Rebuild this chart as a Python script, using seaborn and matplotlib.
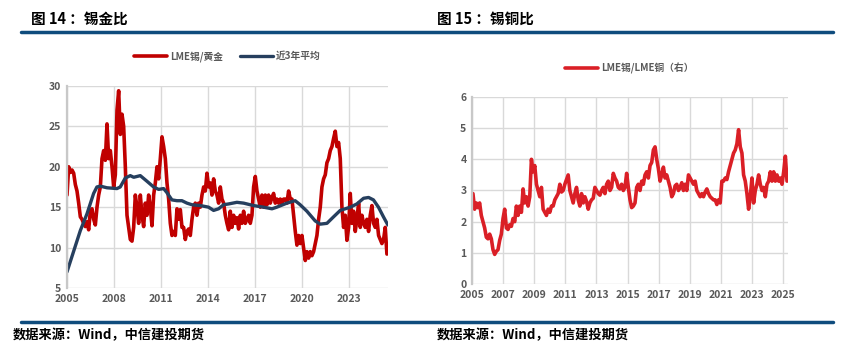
import numpy as np
import pandas as pd
import seaborn as sns
import matplotlib.pyplot as plt
from matplotlib.lines import Line2D

# 锡金比 (LME锡/黄金), 读图得到的取值, 2005 ~ 2025.4 等间距
tin_gold = [16.5, 20.0, 19.3, 19.6, 19.2, 17.8, 17.0, 15.5, 13.8, 13.5,
            13.0, 12.6, 13.2, 12.2, 14.5, 14.8, 13.5, 12.8, 15.0, 16.5,
            17.5, 21.0, 22.0, 20.8, 25.3, 21.0, 22.0, 20.0, 17.5, 19.0,
            27.0, 29.4, 24.0, 26.5, 25.0, 20.0, 14.0, 12.5, 11.0, 10.8,
            12.5, 16.5, 15.0, 13.0, 16.5, 14.0, 12.6, 15.5, 14.0, 16.5,
            15.0, 12.7, 16.5, 18.0, 20.0, 18.5, 21.0, 23.7, 22.5, 21.0,
            18.0, 16.0, 13.0, 11.5, 12.0, 11.5, 14.8, 13.5, 14.7, 12.5,
            12.5, 11.0, 12.0, 12.3, 11.5, 13.5, 15.0, 15.5, 14.0, 15.5,
            15.0, 16.5, 17.5, 17.0, 19.2, 17.5, 18.0, 16.5, 18.5, 17.0,
            16.5, 15.5, 17.5, 16.0, 15.5, 14.0, 13.0, 12.2, 14.5, 12.5,
            14.0, 13.0, 13.7, 12.3, 14.0, 13.0, 14.5, 13.0, 13.5, 14.0,
            13.0, 14.0, 17.5, 18.8, 17.0, 16.0, 15.0, 16.5, 15.0, 16.5,
            15.3, 16.5, 15.5, 16.2, 16.7, 15.5, 16.0, 15.5, 16.0, 15.5,
            16.0, 16.0, 15.5, 17.0, 16.0, 16.0, 14.0, 12.0, 10.3, 11.5,
            10.5, 11.5, 10.0, 8.4, 9.5, 8.7, 9.5, 9.0, 9.5, 10.5,
            11.5, 13.5, 15.0, 17.5, 18.5, 19.0, 20.5, 21.0, 22.0, 22.5,
            23.5, 24.4, 22.5, 23.0, 21.0, 15.0, 12.5, 14.0, 10.9, 12.5,
            16.7, 13.0, 14.5, 12.0, 13.5, 15.5, 12.5, 14.0, 13.0, 12.5,
            13.5, 12.0, 14.0, 15.2, 13.0, 12.5, 13.5, 11.5, 11.0, 10.5,
            11.0, 12.5, 9.2]
tin_gold_x = np.linspace(2005.0, 2025.43, len(tin_gold))

# 近3年平均
avg_x = [2005.0, 2005.85, 2006.28, 2006.70, 2006.91, 2007.13, 2007.55, 2008.19,
         2008.40, 2008.72, 2009.04, 2009.26, 2009.68, 2010.11, 2010.53, 2010.85,
         2011.17, 2011.38, 2011.70, 2012.02, 2012.34, 2012.66, 2012.98, 2013.51,
         2014.04, 2014.36, 2014.68, 2015.00, 2015.32, 2015.85, 2016.28, 2016.91,
         2017.55, 2018.09, 2018.40, 2019.04, 2019.57, 2019.89, 2020.32, 2020.85,
         2021.17, 2021.60, 2022.02, 2022.45, 2023.09, 2023.51, 2023.94, 2024.26,
         2024.57, 2024.89, 2025.21, 2025.49]
avg_y = [7.0, 12.1, 14.2, 16.7, 17.5, 17.6, 17.4, 17.3,
         17.5, 18.6, 18.9, 18.7, 18.9, 18.2, 17.5, 17.2,
         17.3, 16.8, 15.9, 15.8, 15.8, 15.5, 15.3, 15.2,
         15.0, 14.6, 14.8, 15.3, 15.4, 15.6, 15.5, 15.2,
         15.0, 14.8, 15.0, 15.5, 15.8, 15.3, 14.5, 13.3,
         12.9, 13.0, 13.8, 14.6, 15.0, 15.4, 16.1, 16.2,
         15.9, 15.0, 13.8, 12.8]

# 锡铜比 (LME锡/LME铜)
tin_copper = [2.9, 2.4, 2.6, 2.45, 2.6, 2.2, 2.0, 1.8, 1.5, 1.45,
              1.6, 1.45, 1.1, 0.95, 1.05, 1.1, 1.4, 1.6, 2.1, 2.4,
              1.8, 1.75, 1.9, 1.85, 2.1, 2.0, 2.5, 2.2, 2.5, 2.3,
              3.05, 2.6, 2.8, 2.5, 2.8, 4.0, 3.6, 3.8, 3.2, 3.0,
              2.8, 3.1, 2.4, 2.3, 2.2, 2.4, 2.3, 2.5, 2.5, 2.7,
              2.8, 2.9, 3.2, 2.95, 3.0, 3.2, 3.35, 3.5, 3.0, 2.8,
              2.6, 2.9, 3.1, 2.7, 2.5, 2.9, 2.6, 2.8, 2.65, 2.4,
              2.6, 2.7, 2.75, 3.1, 3.0, 2.9, 2.85, 3.0, 3.1, 2.9,
              3.2, 3.3, 3.0, 3.1, 3.55, 3.4, 3.3, 3.1, 3.05, 3.2,
              3.0, 3.1, 3.55, 3.1, 2.7, 2.45, 2.5, 2.6, 3.1, 3.2,
              3.0, 3.3, 3.2, 3.5, 3.6, 3.4, 3.8, 3.9, 4.3, 4.4,
              4.0, 3.7, 3.3, 3.5, 3.75, 3.4, 3.5, 3.3, 3.1, 2.8,
              2.9, 3.15, 3.2, 3.0, 3.1, 3.25, 3.0, 3.2, 3.0, 3.5,
              3.4, 3.3, 3.2, 3.3, 3.0, 2.9, 2.8, 2.9, 2.8, 2.95,
              3.05, 2.9, 2.8, 2.75, 2.7, 2.7, 2.55, 2.7, 2.6, 3.3,
              3.3, 3.4, 3.35, 3.6, 3.8, 4.0, 4.2, 4.3, 4.5, 4.95,
              4.4, 4.2, 3.5, 3.3, 2.9, 2.4, 2.8, 3.4, 2.6, 3.0,
              3.2, 3.5, 3.2, 3.0, 3.1, 2.8, 3.2, 3.3, 3.6, 3.3,
              3.6, 3.3, 3.5, 3.3, 3.4, 3.2, 3.6, 4.1, 3.3]
tin_copper_x = np.linspace(2005.06, 2025.26, len(tin_copper))

left_xticks = [2005, 2008, 2011, 2014, 2017, 2020, 2023]
right_xticks = list(range(2005, 2026, 2))

sns.set_theme(style="white")
plt.rcParams['font.family'] = ['Noto Sans CJK SC', 'DejaVu Sans']

navy = '#0F4C7D'
gray_txt = '#595959'
grid_c = '#D9D9D9'

fig = plt.figure(figsize=(8.45, 3.55), dpi=100)


def style_axes(ax):
    ax.grid(True, color=grid_c, linewidth=1.0)
    for s in ['top', 'right', 'bottom']:
        ax.spines[s].set_visible(False)
    ax.spines['left'].set_color('#C8C8C8')
    ax.spines['left'].set_linewidth(1.6)
    ax.tick_params(axis='both', length=0, labelsize=7.5, colors=gray_txt, pad=4)
    for lab in ax.get_xticklabels() + ax.get_yticklabels():
        lab.set_fontweight('bold')
    ax.set_xlabel('')
    ax.set_ylabel('')


# --- 图14 锡金比 ---
ax1 = fig.add_axes([0.0793, 0.1887, 0.3797, 0.5693])
df1 = pd.DataFrame({"x": tin_gold_x, "y": tin_gold})
sns.lineplot(data=df1, x="x", y="y", ax=ax1, color='#C00000', linewidth=2.6,
             label='LME锡/黄金')
sns.lineplot(x=avg_x, y=avg_y, ax=ax1, color='#263F5E', linewidth=2.4,
             label='近3年平均')
ax1.set_xlim(2005, 2025.49)
ax1.set_ylim(5, 30)
ax1.set_xticks(left_xticks)
ax1.set_yticks([5, 10, 15, 20, 25, 30])
style_axes(ax1)
ax1.legend_.remove()
h1, l1 = ax1.get_legend_handles_labels()
fig.legend(h1, l1, loc='center', bbox_to_anchor=(0.269, 0.842), ncol=2, frameon=False,
           handlelength=3.4, columnspacing=1.8, handletextpad=0.3,
           labelcolor=gray_txt, prop={'weight': 'bold', 'size': 7})

# --- 图15 锡铜比 ---
ax2 = fig.add_axes([0.5586, 0.2, 0.3739, 0.5268])
df2 = pd.DataFrame({"x": tin_copper_x, "y": tin_copper})
sns.lineplot(data=df2, x="x", y="y", ax=ax2, color='#DA1F26', linewidth=2.6,
             label='LME锡/LME铜（右）')
ax2.set_xlim(2005, 2025.32)
ax2.set_ylim(0, 6)
ax2.set_xticks(right_xticks)
ax2.set_yticks(range(0, 7))
style_axes(ax2)
ax2.legend_.remove()
h2, l2 = ax2.get_legend_handles_labels()
fig.legend(h2, l2, loc='center', bbox_to_anchor=(0.745, 0.808), frameon=False,
           handlelength=3.4, handletextpad=0.3, labelcolor=gray_txt,
           prop={'weight': 'bold', 'size': 7})

# 标题与分隔线
fig.text(0.0367, 0.946, '图 14 ：锡金比', fontsize=10.5, fontweight='bold', color='black', va='center')
fig.text(0.517, 0.946, '图 15 ：锡铜比', fontsize=10.5, fontweight='bold', color='black', va='center')
fig.add_artist(Line2D([21 / 845, 833 / 845], [1 - 32 / 355] * 2, color=navy, linewidth=2.5))
fig.add_artist(Line2D([21 / 845, 833 / 845], [1 - 322 / 355] * 2, color=navy, linewidth=2.5))
fig.text(0.0154, 0.056, '数据来源：Wind，中信建投期货', fontsize=9.5, fontweight='bold',
         fontstyle='italic', color='black', va='center')
fig.text(0.517, 0.056, '数据来源：Wind，中信建投期货', fontsize=9.5, fontweight='bold',
         fontstyle='italic', color='black', va='center')

fig.savefig('out.png', dpi=100)
